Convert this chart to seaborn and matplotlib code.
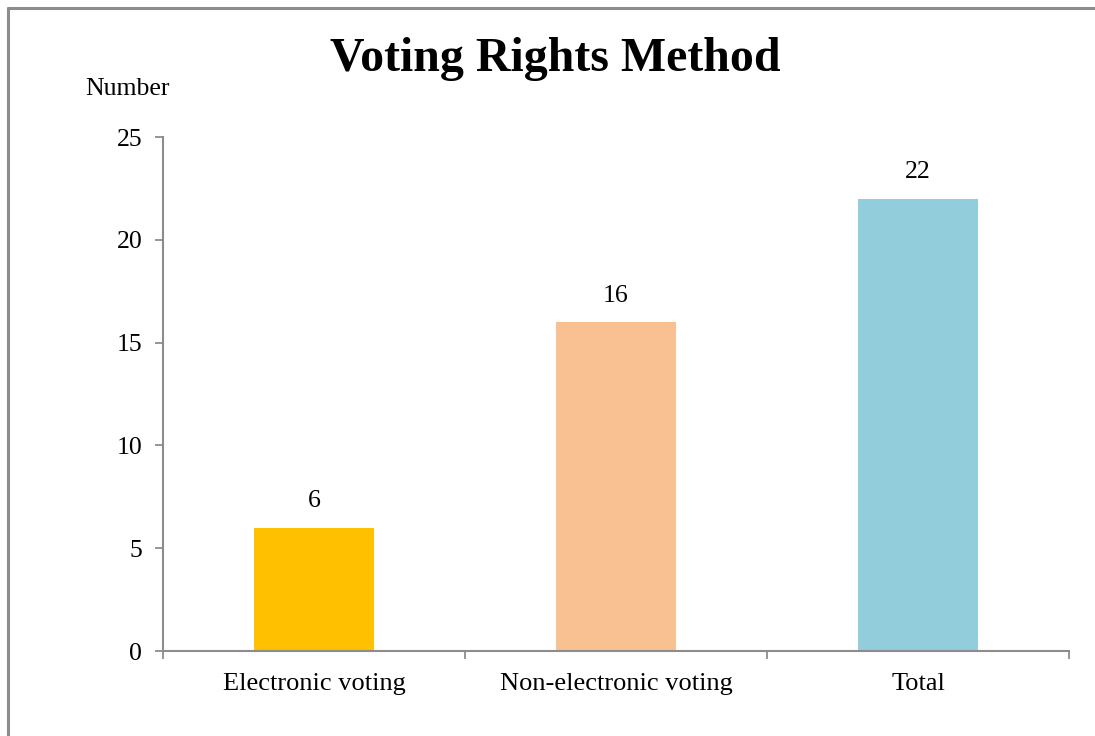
import matplotlib
matplotlib.use("Agg")
import matplotlib.pyplot as plt
import seaborn as sns
import pandas as pd
from matplotlib.lines import Line2D

categories = ["Electronic voting", "Non-electronic voting", "Total"]
values = [6, 16, 22]
colors = ["#FFC000", "#F9C191", "#92CDDC"]
yticks = [0, 5, 10, 15, 20, 25]

sns.set_theme(style="white")
plt.rcParams['font.family'] = ['Liberation Serif', 'DejaVu Serif']
plt.rcParams['text.color'] = 'black'
plt.rcParams['xtick.labelcolor'] = 'black'
plt.rcParams['ytick.labelcolor'] = 'black'

df = pd.DataFrame({"cat": categories, "val": values})

fig = plt.figure(figsize=(10.95, 7.36), dpi=100)
ax = fig.add_axes([163/1095, 1-651/736, (1069-163)/1095, (651-137)/736])

sns.barplot(data=df, x="cat", y="val", hue="cat", palette=colors, legend=False,
            width=0.4, ax=ax, saturation=1, edgecolor="none", linewidth=0)

grey = "#8C8C8C"
ax.set_xlim(-0.5, 2.5)
ax.set_ylim(0, 25)
ax.set_yticks(yticks)
ax.set_yticklabels([str(v) for v in yticks], fontsize=18.5)
ax.tick_params(axis="y", direction="out", length=6, width=1.3, color=grey, pad=9, left=True,
               labelcolor="black")

ax.set_xticks([-0.5, 0.5, 1.5, 2.5])
ax.set_xticklabels([])
ax.set_xticks([0, 1, 2], minor=True)
ax.set_xticklabels(categories, minor=True, fontsize=19)
ax.tick_params(axis="x", which="major", direction="out", length=5.5, width=1.3, color=grey, bottom=True)
ax.tick_params(axis="x", which="minor", length=0, pad=16, labelcolor="black")
ax.set_xlabel("")
ax.set_ylabel("")

for s in ["top", "right"]:
    ax.spines[s].set_visible(False)
for s in ["left", "bottom"]:
    ax.spines[s].set_color(grey)
    ax.spines[s].set_linewidth(1.5)

for c in ax.containers:
    ax.bar_label(c, labels=[f"{int(v)}" for v in c.datavalues], padding=11, fontsize=18.5,
                 color="black")

fig.text(555/1095, 1-59/736, "Voting Rights Method", ha="center", va="center",
         fontsize=34.5, fontweight="bold", color="black")
fig.text(128/1095, 1-89/736, "Number", ha="center", va="center", fontsize=18.5, color="black")

fig.add_artist(Line2D([8/1095, 1], [1-7.5/736, 1-7.5/736], color=grey, lw=2.2, transform=fig.transFigure))
fig.add_artist(Line2D([8/1095, 8/1095], [0, 1-7.5/736], color=grey, lw=2.2, transform=fig.transFigure))

fig.savefig("out.png", dpi=100, facecolor="white")
